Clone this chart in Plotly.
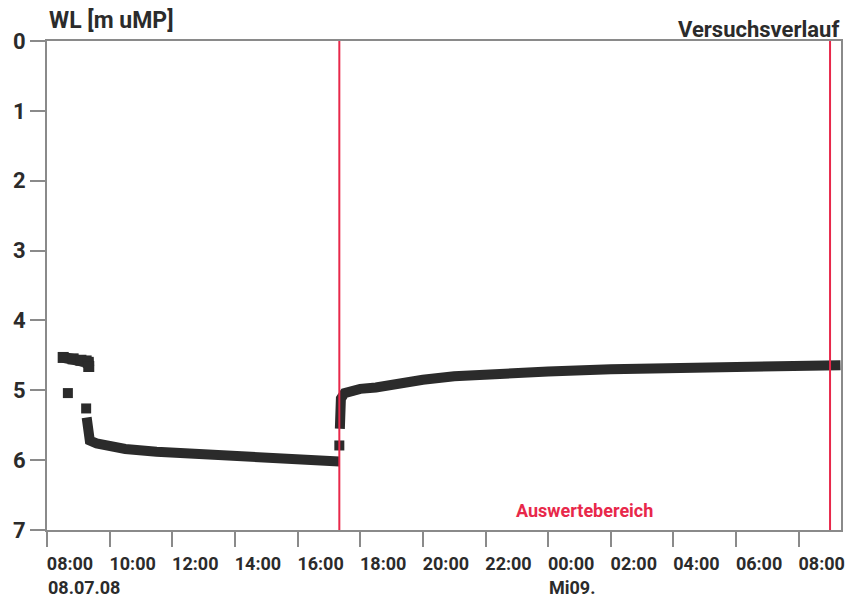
import plotly.graph_objects as go

# ---- data ----
pre_times = ["2008-07-08 08:31", "2008-07-08 08:50", "2008-07-08 09:05", "2008-07-08 09:15", "2008-07-08 09:19",
             "2008-07-08 09:20"]
pre_wl = [4.53, 4.55, 4.57, 4.58, 4.6, 4.66]

dot_times = ["2008-07-08 08:40", "2008-07-08 09:15", "2008-07-08 17:20"]
dot_wl = [5.04, 5.26, 5.79]

draw_times = ["2008-07-08 09:16", "2008-07-08 09:18", "2008-07-08 09:22", "2008-07-08 09:35",
              "2008-07-08 10:00", "2008-07-08 10:30", "2008-07-08 11:30", "2008-07-08 12:30",
              "2008-07-08 13:30", "2008-07-08 14:30", "2008-07-08 15:30", "2008-07-08 16:30",
              "2008-07-08 17:20"]
draw_wl = [5.39, 5.6, 5.72, 5.76, 5.8, 5.84, 5.88, 5.91, 5.93, 5.96, 5.98, 6.0, 6.02]

rec_times = ["2008-07-08 17:21", "2008-07-08 17:21", "2008-07-08 17:23", "2008-07-08 17:30",
             "2008-07-08 17:45", "2008-07-08 18:00", "2008-07-08 18:30", "2008-07-08 19:00",
             "2008-07-08 19:30", "2008-07-08 20:00", "2008-07-08 21:00", "2008-07-08 22:00",
             "2008-07-08 23:00", "2008-07-09 00:00", "2008-07-09 02:00", "2008-07-09 04:00",
             "2008-07-09 06:00", "2008-07-09 08:00", "2008-07-09 09:20"]
rec_wl = [5.55, 5.3, 5.12, 5.04, 5.0, 4.98, 4.96, 4.92, 4.88, 4.85, 4.8, 4.77,
          4.75, 4.73, 4.7, 4.68, 4.66, 4.65, 4.64]

x_tick_vals = ["2008-07-08 08:00", "2008-07-08 10:00", "2008-07-08 12:00", "2008-07-08 14:00",
               "2008-07-08 16:00", "2008-07-08 18:00", "2008-07-08 20:00", "2008-07-08 22:00",
               "2008-07-09 00:00", "2008-07-09 02:00", "2008-07-09 04:00", "2008-07-09 06:00",
               "2008-07-09 08:00"]
x_tick_text = ["08:00", "10:00", "12:00", "14:00", "16:00", "18:00", "20:00", "22:00",
               "00:00", "02:00", "04:00", "06:00", "08:00"]
date_labels = [("2008-07-08 08:00", "08.07.08"), ("2008-07-09 00:00", "Mi09.")]
y_ticks = [0, 1, 2, 3, 4, 5, 6, 7]

eval_start = "2008-07-08 17:20"
eval_end = "2008-07-09 09:00"
x_range = ["2008-07-08 08:00", "2008-07-09 09:21"]

DARK = "#2b2b2b"
RED = "#e8284a"
GRID = "#8a8a8a"
FONT = "Roboto"

fig = go.Figure()
fig.add_trace(go.Scatter(x=pre_times, y=pre_wl, mode="lines+markers",
                         line=dict(color=DARK, width=11),
                         marker=dict(color=DARK, size=11, symbol="square"), showlegend=False))
fig.add_trace(go.Scatter(x=draw_times, y=draw_wl, mode="lines",
                         line=dict(color=DARK, width=10), showlegend=False))
fig.add_trace(go.Scatter(x=rec_times, y=rec_wl, mode="lines",
                         line=dict(color=DARK, width=10), showlegend=False))
fig.add_trace(go.Scatter(x=dot_times, y=dot_wl, mode="markers",
                         marker=dict(color=DARK, size=10, symbol="square"), showlegend=False))

for xv in (eval_start, eval_end):
    fig.add_shape(type="line", xref="x", yref="paper", x0=xv, x1=xv, y0=0, y1=1,
                  line=dict(color=RED, width=2), layer="above")

fig.add_annotation(x=0, y=1, xref="paper", yref="paper", xanchor="left", yanchor="bottom",
                   yshift=5, text="WL [m uMP]", showarrow=False,
                   font=dict(family=FONT, size=23, color=DARK, weight="bold"))
fig.add_annotation(x=1, y=1, xref="paper", yref="paper", xanchor="right", yanchor="bottom",
                   yshift=-3, xshift=0, text="Versuchsverlauf", showarrow=False,
                   font=dict(family=FONT, size=22, color=DARK, weight="bold"))
fig.add_annotation(x="2008-07-09 01:10", y=6.72, xref="x", yref="y", xanchor="center", yanchor="middle",
                   text="Auswertebereich", showarrow=False,
                   font=dict(family=FONT, size=18, color=RED, weight="bold"))
for xv, txt in date_labels:
    fig.add_annotation(x=xv, y=0, xref="x", yref="paper", xanchor="left", yanchor="top",
                       yshift=-45, xshift=-1, text=txt, showarrow=False,
                       font=dict(family=FONT, size=18, color=DARK, weight="bold"))

fig.update_layout(
    width=845, height=597,
    margin=dict(l=47, r=4, t=41, b=67, autoexpand=False),
    paper_bgcolor="white", plot_bgcolor="white",
    xaxis=dict(type="date", range=x_range, tickvals=x_tick_vals, ticktext=x_tick_text,
               showgrid=False, zeroline=False, showline=True, linecolor=GRID, linewidth=2,
               mirror=True, ticks="outside", ticklen=15, tickwidth=2, tickcolor=GRID,
               ticklabelshift=23, ticklabelstandoff=1, automargin=False,
               ticklabeloverflow="allow",
               tickfont=dict(family=FONT, size=18, color=DARK, weight="bold")),
    yaxis=dict(range=[7, 0], tickvals=y_ticks, showgrid=False, zeroline=False,
               showline=True, linecolor=GRID, linewidth=2, mirror=True,
               ticks="outside", ticklen=15, tickwidth=2, tickcolor=GRID,
               ticklabelstandoff=0, automargin=False,
               tickfont=dict(family=FONT, size=22, color=DARK, weight="bold")),
)

fig.write_html("out.html", config={"displayModeBar": False},
               post_script="document.body.style.margin='0';document.body.style.overflow='hidden';")
